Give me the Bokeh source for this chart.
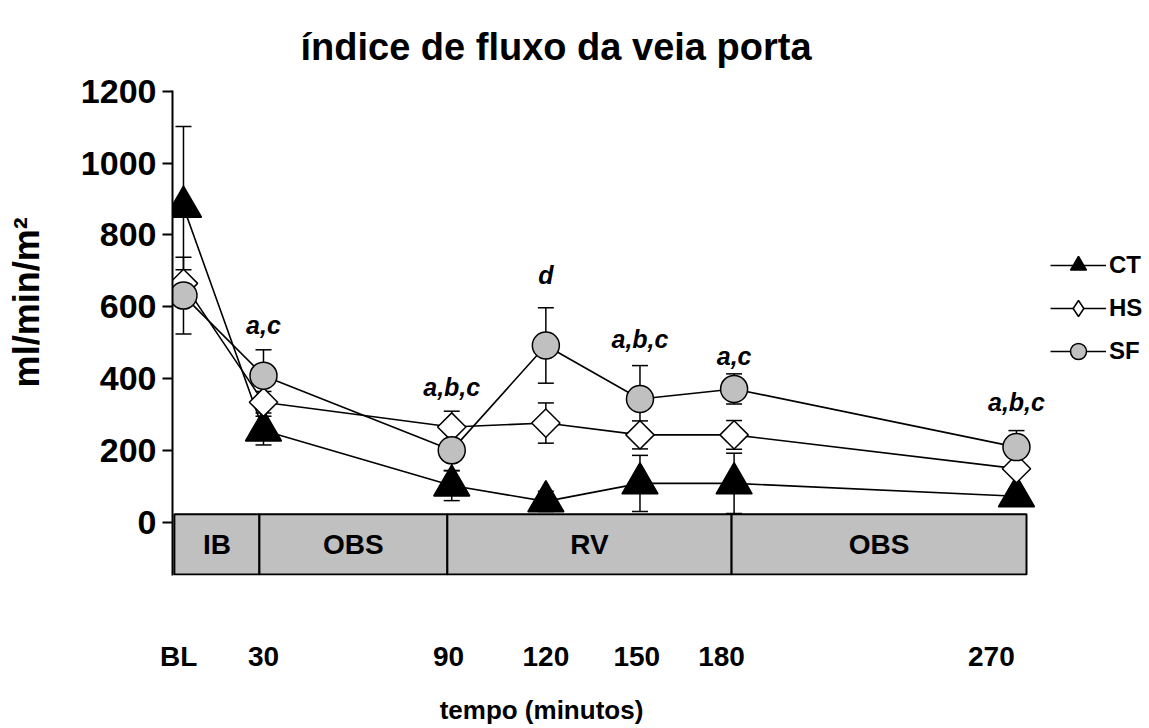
from bokeh.plotting import figure
from bokeh.models import (ColumnDataSource, Whisker, TeeHead, FixedTicker, Legend,
                          LegendItem, LinearAxis, Range1d)
from bokeh.core.properties import value
from bokeh.embed import file_html
from bokeh.resources import INLINE
import math

# ---------------- data ----------------
tick_labels = ["BL", "30", "90", "120", "150", "180", "270"]
x_time = [4.5, 30, 90, 120, 150, 180, 270]
tick_pos = [3, 30, 89, 120, 149, 176, 262]

ct_mean = [878, 255, 102, 58, 108, 108, 72]
ct_sd = [224, 40, 42, 28, 78, 84, 20]
hs_mean = [665, 334, 265, 276, 243, 243, 149]
hs_sd = [38, 30, 44, 56, 39, 40, 15]
sf_mean = [631, 408, 200, 492, 343, 371, 209]
sf_sd = [107, 72, 57, 105, 93, 42, 46]

ann_x = [30, 90, 120, 150, 180, 270]
ann_y = [550, 376, 687, 511, 464, 334]
ann_text = ["a,c", "a,b,c", "d", "a,b,c", "a,c", "a,b,c"]

phase_labels = ["IB", "OBS", "RV", "OBS"]
phase_start = [1.6, 28.7, 88.6, 179.2]
phase_end = [28.7, 88.6, 179.2, 273.2]
phase_top = 22
phase_bottom = -146

y_ticks = [0, 200, 400, 600, 800, 1000, 1200]

TITLE = "índice de fluxo da veia porta"
X_TITLE = "tempo (minutos)"
Y_TITLE = "ml/min/m²"

FONT = "Liberation Sans"
X_TITLE_AT = 118.6   # where the x title is centred along the time axis
Y_TITLE_AT = 612     # where the y title is centred along the value axis

# ---------------- figure ----------------
p = figure(width=1149, height=728,
           x_range=Range1d(1.0, 312.4), y_range=Range1d(-148.5, 1202),
           output_backend="svg", toolbar_location=None,
           min_border_left=172, min_border_right=0,
           min_border_top=90, min_border_bottom=153)
p.outline_line_color = None
p.xgrid.visible = False
p.ygrid.visible = False
p.background_fill_color = "white"
p.border_fill_color = "white"

# title
p.title.text = TITLE
p.title.align = "left"
p.title.offset = 128
p.title.vertical_align = "top"
p.title.standoff = 42
p.title.text_font = FONT
p.title.text_font_style = "bold"
p.title.text_font_size = "38px"
p.title.text_color = "black"

# y axis
p.yaxis.ticker = FixedTicker(ticks=y_ticks)
p.yaxis.major_label_text_font = FONT
p.yaxis.major_label_text_font_style = "bold"
p.yaxis.major_label_text_font_size = "34px"
p.yaxis.major_label_text_color = "black"
p.yaxis.axis_line_width = 2
p.yaxis.axis_line_color = "black"
p.yaxis.major_tick_line_width = 2
p.yaxis.major_tick_line_color = "black"
p.yaxis.major_tick_out = 10
p.yaxis.major_tick_in = 0
p.yaxis.minor_tick_line_color = None
p.yaxis.minor_tick_out = 0
p.yaxis.major_label_standoff = 6

# x axis
p.xaxis.ticker = FixedTicker(ticks=tick_pos)
p.xaxis.major_label_overrides = {t: lab for t, lab in zip(tick_pos, tick_labels)}
p.xaxis.axis_line_color = None
p.xaxis.major_tick_line_color = None
p.xaxis.minor_tick_line_color = None
p.xaxis.major_tick_out = 0
p.xaxis.minor_tick_out = 0
p.xaxis.major_label_standoff = 65
p.xaxis.major_label_text_font = FONT
p.xaxis.major_label_text_font_style = "bold"
p.xaxis.major_label_text_font_size = "28px"
p.xaxis.major_label_text_color = "black"

def title_axis(pos, text, **kw):
    ax = LinearAxis(ticker=FixedTicker(ticks=[pos]),
                    major_label_overrides={pos: text},
                    axis_line_color=None, major_tick_line_color=None,
                    minor_tick_line_color=None, major_tick_out=0, major_tick_in=0,
                    minor_tick_out=0, minor_tick_in=0,
                    major_label_text_font=FONT, major_label_text_font_style="bold",
                    major_label_text_color="black", **kw)
    return ax

# axis titles, placed as single-label axes so they can sit exactly where the reference has them
p.add_layout(title_axis(X_TITLE_AT, X_TITLE, major_label_standoff=20,
                        major_label_text_font_size="26px"), "below")
p.add_layout(title_axis(Y_TITLE_AT, Y_TITLE, major_label_standoff=30,
                        major_label_orientation="vertical",
                        major_label_text_font_size="36px"), "left")

# phase boxes
p.quad(left=phase_start, right=phase_end, top=phase_top, bottom=phase_bottom,
       fill_color="#c0c0c0", line_color="black", line_width=2)
p.text(x=[(s + e) / 2 for s, e in zip(phase_start, phase_end)],
       y=[(phase_top + phase_bottom) / 2] * len(phase_labels),
       text=phase_labels, text_align="center", text_baseline="middle",
       text_font=value(FONT), text_font_style="bold", text_font_size="28px",
       text_color="black")

# series
def make_source(mean, sd):
    return ColumnDataSource(dict(x=x_time, y=mean,
                                 upper=[m + s for m, s in zip(mean, sd)],
                                 lower=[m - s for m, s in zip(mean, sd)]))

def add_series(src, marker, size, fill, angle=0.0, under=None):
    w = Whisker(source=src, base="x", upper="upper", lower="lower",
                line_color="black", line_width=1.5,
                upper_head=TeeHead(size=16, line_width=1.5, line_color="black"),
                lower_head=TeeHead(size=16, line_width=1.5, line_color="black"))
    p.add_layout(w)
    ln = p.line("x", "y", source=src, line_color="black", line_width=1.6)
    key = None
    if under is not None:
        # small diamond hidden beneath the rotated square; used as legend swatch
        key = p.scatter("x", "y", source=src, marker=under, size=18,
                        fill_color=fill, line_color="black", line_width=1.5)
    mk = p.scatter("x", "y", source=src, marker=marker, size=size, angle=angle,
                   fill_color=fill, line_color="black", line_width=1.5)
    return ln, mk, key

ct_src = make_source(ct_mean, ct_sd)
hs_src = make_source(hs_mean, hs_sd)
sf_src = make_source(sf_mean, sf_sd)

ct_l, ct_m, _ = add_series(ct_src, "triangle", 36, "black")
hs_l, hs_m, hs_key = add_series(hs_src, "square", 20, "white",
                                angle=math.pi / 4, under="diamond")
sf_l, sf_m, _ = add_series(sf_src, "circle", 27, "#c0c0c0")

# significance annotations
p.text(x=ann_x, y=ann_y, text=ann_text, text_align="center", text_baseline="middle",
       text_font=value(FONT), text_font_style="bold italic", text_font_size="25px",
       text_color="black")

legend = Legend(items=[LegendItem(label="CT", renderers=[ct_l, ct_m]),
                       LegendItem(label="HS", renderers=[hs_l, hs_key]),
                       LegendItem(label="SF", renderers=[sf_l, sf_m])],
                location=(878, 204), orientation="vertical",
                border_line_color=None, background_fill_alpha=0,
                padding=0, margin=0, spacing=3,
                glyph_height=40, glyph_width=56, label_height=40,
                label_standoff=3, label_text_font=FONT, label_text_color="black",
                label_text_font_style="bold", label_text_font_size="24px")
p.add_layout(legend)

open("out.html", "w").write(file_html(p, INLINE))
